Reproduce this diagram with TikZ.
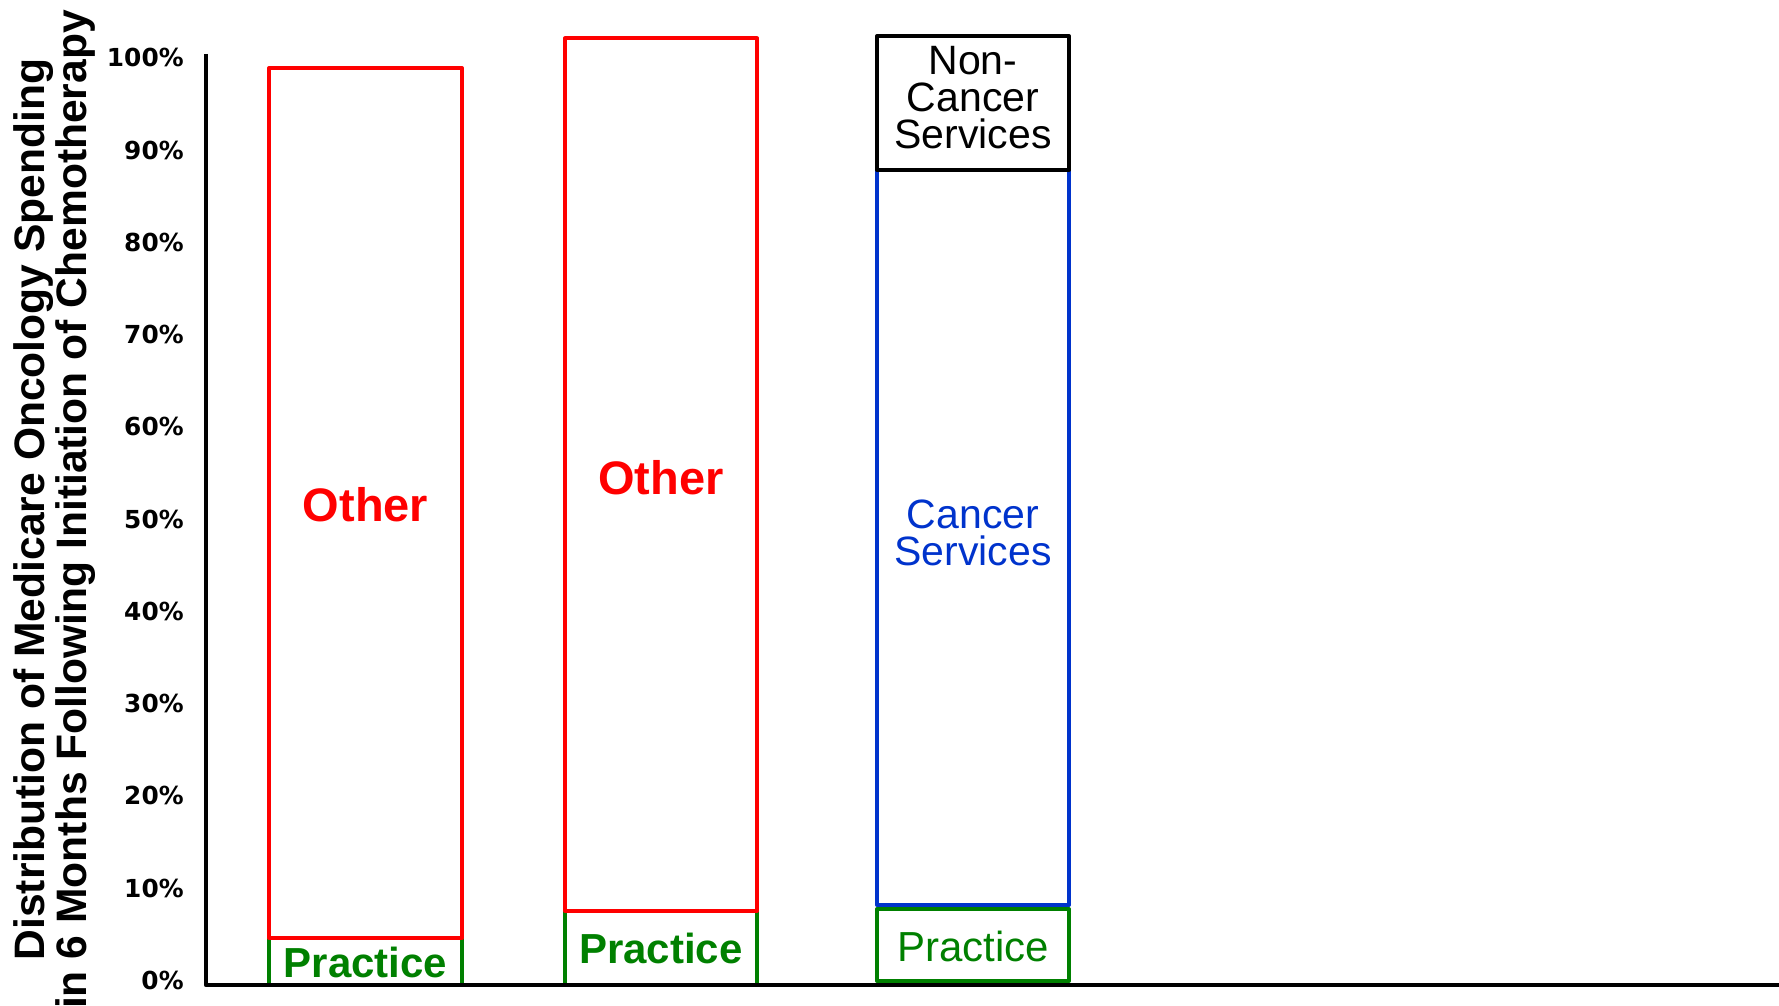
\documentclass[tikz,border=0pt]{standalone}
\usepackage{fontspec}
\setmainfont{Liberation Sans}
\newfontfamily\tickfont{DejaVu Sans}
\definecolor{otherred}{RGB}{255,0,0}
\definecolor{practicegreen}{RGB}{0,128,0}
\definecolor{cancerblue}{RGB}{0,51,204}

\begin{document}
\begin{tikzpicture}[x = 0.5pt, y = -0.5pt, line join = round,
	bar/.style = {line width = 2pt},
	axis/.style = {line width = 2.25pt, black},
	lbl/.style = {inner sep = 0pt, align = center}]
	\useasboundingbox (0,0) rectangle (1779,1006);
	
	% bar 1
	\draw[bar, practicegreen] (269,938) rectangle (462,985);
	\draw[bar, otherred] (269,68) rectangle (462,938);
	\node[lbl, otherred, font = \bfseries\fontsize{23.5}{23.5}\selectfont] (other1) at (365.5,505) {Other};
	\node[lbl, practicegreen, font = \bfseries\fontsize{21}{21}\selectfont] (practice1) at (365.5,962) {Practice};
	
	% bar 2
	\draw[bar, practicegreen] (565,911) rectangle (757,985);
	\draw[bar, otherred] (565,38.5) rectangle (757,911);
	\node[lbl, otherred, font = \bfseries\fontsize{23.5}{23.5}\selectfont] (other2) at (661,477.5) {Other};
	\node[lbl, practicegreen, font = \bfseries\fontsize{21}{21}\selectfont] (practice2) at (661,948) {Practice};
	
	% bar 3
	\draw[bar, cancerblue] (877,170) rectangle (1069,905);
	\draw[bar, black] (877,36) rectangle (1069,170);
	\draw[bar, practicegreen] (877,909) rectangle (1069,981);
	\node[lbl, font = \fontsize{20.5}{18.5}\selectfont] (noncancer) at (973,98) {Non-\\Cancer\\Services};
	\node[lbl, cancerblue, font = \fontsize{20.5}{18.5}\selectfont] (cancer) at (973,533) {Cancer\\Services};
	\node[lbl, practicegreen, font = \fontsize{21}{21}\selectfont] (practice3) at (973,946.5) {Practice};
	
	% axes
	\draw[axis] (206,54) -- (206,985) -- (1779,985);
	\foreach \k in {0, 1, ..., 10} {
		\pgfmathtruncatemacro{\pct}{10*\k}
		\node[anchor = east, inner sep = 0pt, font = \tickfont\bfseries\fontsize{12.4}{12.4}\selectfont] (tick\k) at (184, 980.3 - 92.24*\k) {\pct\%};
	}
	
	% y label
	\node[rotate = 90, lbl, font = \bfseries\fontsize{21.3}{18.5}\selectfont] (ylabel) at (55,509.5) {Distribution of Medicare Oncology Spending\\in 6 Months Following Initiation of Chemotherapy};
	
\end{tikzpicture}
\end{document}
